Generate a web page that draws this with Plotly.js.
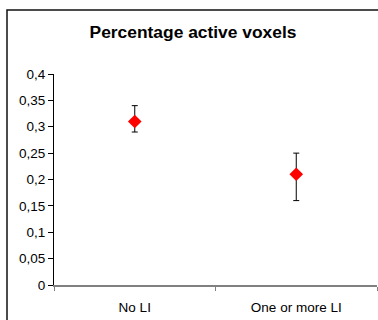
<!DOCTYPE html>
<html>
<head>
<meta charset="utf-8">
<script src="https://cdn.plot.ly/plotly-3.0.1.min.js"></script>
<style>
html,body{margin:0;padding:0;background:#fff;}
#chart{width:378px;height:320px;}
</style>
</head>
<body>
<div id="chart"></div>
<script>
var categories = ["No LI", "One or more LI"];
var means = [0.31, 0.21];
var errPlus = [0.03, 0.04];
var errMinus = [0.02, 0.05];
var yTicks = [0, 0.05, 0.1, 0.15, 0.2, 0.25, 0.3, 0.35, 0.4];

var trace = {
  x: categories,
  y: means,
  type: "scatter",
  mode: "markers",
  marker: {symbol: "diamond", color: "#ff0000", size: 10.5},
  error_y: {type: "data", symmetric: false, array: errPlus, arrayminus: errMinus,
            color: "#000000", thickness: 1, width: 3},
  hoverinfo: "none",
  showlegend: false
};

var layout = {
  width: 378, height: 320,
  margin: {l: 54, r: 1, t: 74, b: 35},
  paper_bgcolor: "#ffffff",
  plot_bgcolor: "rgba(0,0,0,0)",
  separators: ", ",
  font: {family: "Arial, 'Liberation Sans', sans-serif", size: 13.5, color: "#000000"},
  title: {text: "<b>Percentage active voxels</b>", font: {size: 17.4, color: "#000"},
          xref: "container", x: 193/378, xanchor: "center",
          yref: "container", y: 1 - 32/320, yanchor: "middle"},
  xaxis: {
    type: "category", range: [-0.5, 1.5],
    showgrid: false, zeroline: false,
    showline: true, linecolor: "#808080", linewidth: 1.5,
    ticks: "outside", tickson: "boundaries", ticklen: 4, tickcolor: "#808080",
    ticklabelstandoff: 9,
    tickfont: {size: 13.5}, fixedrange: true
  },
  yaxis: {
    range: [0, 0.4], tickvals: yTicks,
    showgrid: false, zeroline: false,
    showline: true, linecolor: "#000000", linewidth: 1,
    ticks: "outside", ticklen: 5, tickcolor: "#000000",
    tickfont: {size: 13.5}, fixedrange: true
  },
  shapes: [{
    type: "rect", xref: "paper", yref: "paper",
    x0: (7 - 54) / 323, x1: 1.2, y0: -0.3, y1: (285 - 10) / 211,
    line: {color: "#111111", width: 1.5}, fillcolor: "rgba(0,0,0,0)", layer: "below"
  }]
};

Plotly.newPlot("chart", [trace], layout, {displayModeBar: false, staticPlot: true});
</script>
</body>
</html>
